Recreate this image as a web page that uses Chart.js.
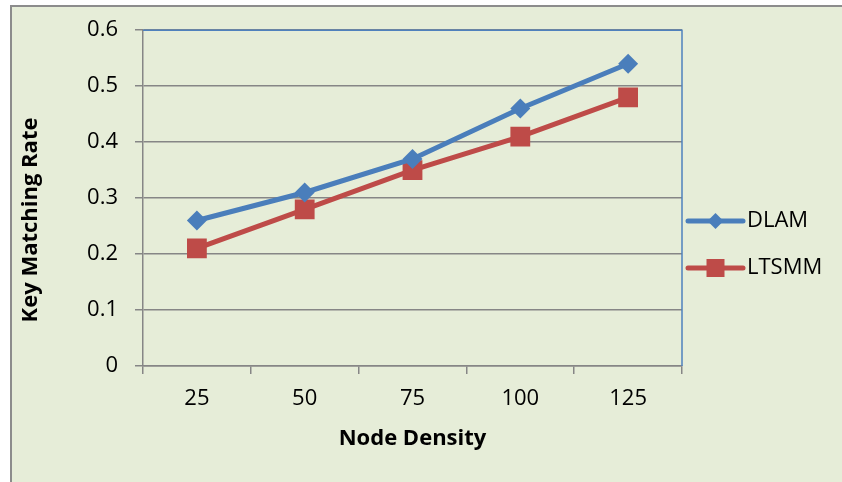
<!DOCTYPE html>
<html>
<head>
<meta charset="utf-8">
<script src="https://cdn.jsdelivr.net/npm/chart.js@4.4.1/dist/chart.umd.min.js"></script>
<style>
  html, body { margin: 0; padding: 0; background: #ffffff; }
  #wrap { width: 842px; height: 482px; position: relative; }
</style>
</head>
<body>
<div id="wrap"><canvas id="c" width="842" height="482"></canvas></div>
<script>
// Node density categories and the key matching rate of each scheme
const categories = ['25', '50', '75', '100', '125'];
const dlam = [0.26, 0.31, 0.37, 0.46, 0.54];
const ltsmm = [0.21, 0.28, 0.35, 0.41, 0.48];
const yTickLabels = ['0', '0.1', '0.2', '0.3', '0.4', '0.5', '0.6'];

const FONT = '"Open Sans", Lato, sans-serif';
const GRID = '#868686';
const FRAME = '#4F81BD';

// Panel background with a grey frame on its left and top edges
const panelBg = {
  id: 'panelBg',
  beforeDraw(chart) {
    const ctx = chart.ctx;
    ctx.save();
    ctx.fillStyle = '#E6EDD8';
    ctx.fillRect(10, 5, chart.width - 10, chart.height - 5);
    ctx.strokeStyle = '#8c8c8c';
    ctx.lineWidth = 2;
    ctx.beginPath();
    ctx.moveTo(11, chart.height);
    ctx.lineTo(11, 6);
    ctx.lineTo(chart.width, 6);
    ctx.stroke();
    ctx.restore();
  }
};

// Blue outline on top/right of the plot area, axis titles and legend
const decorations = {
  id: 'decorations',
  afterDatasetsDraw(chart) {
    const { ctx, chartArea: a } = chart;
    ctx.save();
    ctx.strokeStyle = FRAME;
    ctx.lineWidth = 1.5;
    ctx.beginPath();
    ctx.moveTo(a.left, a.top);
    ctx.lineTo(a.right, a.top);
    ctx.lineTo(a.right, a.bottom);
    ctx.stroke();
    ctx.restore();
  },
  afterDraw(chart) {
    const { ctx, chartArea: a } = chart;
    ctx.save();
    ctx.fillStyle = '#000';
    ctx.font = 'bold 22px ' + FONT;
    ctx.textAlign = 'center';
    ctx.textBaseline = 'middle';
    ctx.fillText('Node Density', (a.left + a.right) / 2, 439);
    ctx.translate(31, 220);
    ctx.rotate(-Math.PI / 2);
    ctx.fillText('Key Matching Rate', 0, 0);
    ctx.restore();

    // legend: line + marker + name per series
    const rows = [221, 268];
    chart.data.datasets.forEach((ds, i) => {
      const y = rows[i];
      const x0 = a.right + 6, x1 = a.right + 61, xm = (x0 + x1) / 2;
      ctx.save();
      ctx.strokeStyle = ds.borderColor;
      ctx.lineWidth = 5;
      ctx.lineCap = 'round';
      ctx.beginPath();
      ctx.moveTo(x0, y);
      ctx.lineTo(x1, y);
      ctx.stroke();
      ctx.fillStyle = ds.pointBackgroundColor;
      ctx.beginPath();
      if (ds.pointStyle === 'rectRot') {
        const r = 8;
        ctx.moveTo(xm - r, y); ctx.lineTo(xm, y - r);
        ctx.lineTo(xm + r, y); ctx.lineTo(xm, y + r);
        ctx.closePath();
      } else {
        ctx.rect(xm - 9, y - 9, 18, 18);
      }
      ctx.fill();
      ctx.fillStyle = '#000';
      ctx.font = '22px ' + FONT;
      ctx.textAlign = 'left';
      ctx.textBaseline = 'middle';
      ctx.fillText(ds.label, x1 + 4, y);
      ctx.restore();
    });
  }
};

new Chart(document.getElementById('c'), {
  type: 'line',
  data: {
    labels: categories,
    datasets: [
      {
        label: 'DLAM',
        data: dlam,
        borderColor: '#4A7EBB',
        backgroundColor: '#4A7EBB',
        pointBackgroundColor: '#4A7EBB',
        pointBorderColor: '#4A7EBB',
        borderWidth: 5,
        pointStyle: 'rectRot',
        pointRadius: 10,
        pointBorderWidth: 0,
        tension: 0
      },
      {
        label: 'LTSMM',
        data: ltsmm,
        borderColor: '#BE4B48',
        backgroundColor: '#BE4B48',
        pointBackgroundColor: '#BE4B48',
        pointBorderColor: '#BE4B48',
        borderWidth: 5,
        pointStyle: 'rect',
        pointRadius: 14,
        pointBorderWidth: 0,
        tension: 0
      }
    ]
  },
  options: {
    responsive: false,
    animation: false,
    devicePixelRatio: 1,
    layout: { padding: { top: 30, right: 160, left: 0, bottom: 0 } },
    plugins: { legend: { display: false }, tooltip: { enabled: false } },
    scales: {
      x: {
        type: 'category',
        offset: true,
        afterFit(s) { s.height = 116; },
        grid: {
          offset: true,
          drawOnChartArea: false,
          drawTicks: true,
          tickLength: 8,
          color: GRID,
          lineWidth: 1.5
        },
        border: { display: true, color: GRID, width: 1.5 },
        ticks: {
          color: '#000',
          font: { family: FONT, size: 22 },
          padding: 12,
          maxRotation: 0
        }
      },
      y: {
        min: 0,
        max: 0.6,
        afterFit(s) { s.width = 143; },
        ticks: {
          stepSize: 0.1,
          color: '#000',
          font: { family: FONT, size: 22 },
          padding: 17,
          callback: (v, i) => yTickLabels[i]
        },
        grid: {
          color: GRID,
          lineWidth: 1.5,
          drawTicks: true,
          tickLength: 8
        },
        border: { display: true, color: GRID, width: 1.5 }
      }
    }
  },
  plugins: [panelBg, decorations]
});
</script>
</body>
</html>
